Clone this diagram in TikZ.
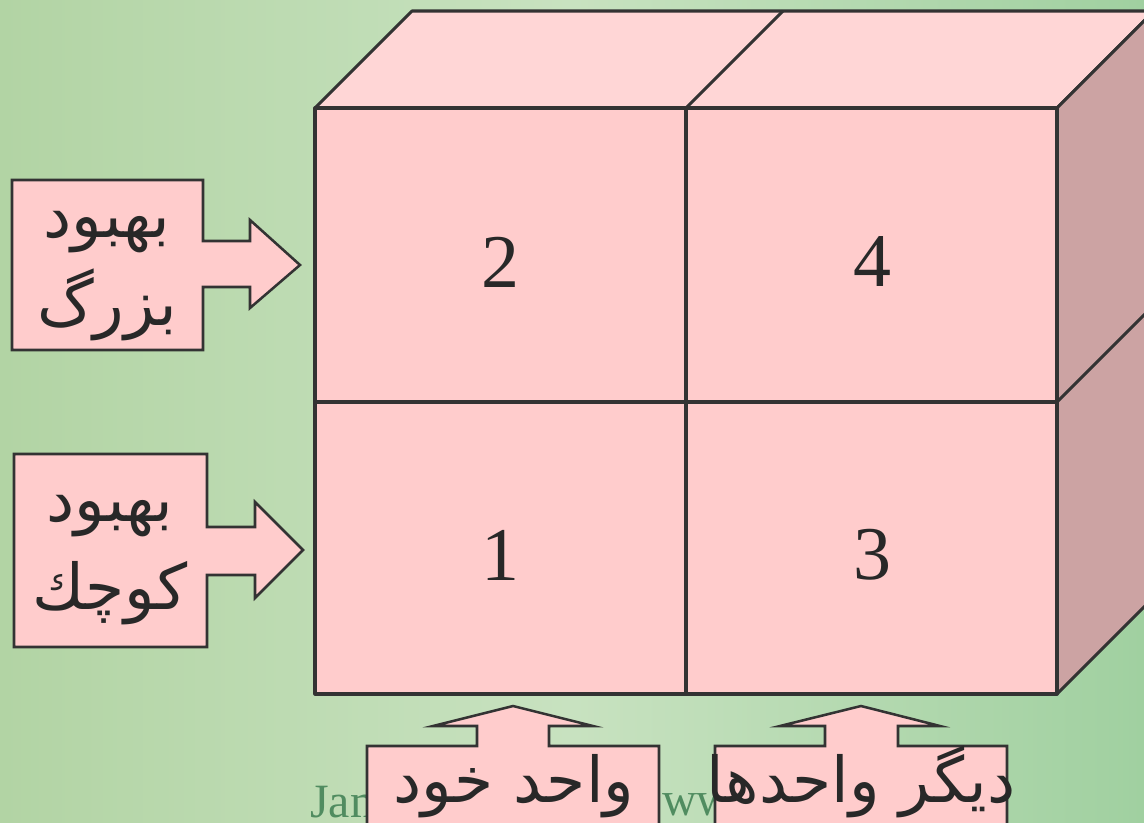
\documentclass[tikz,border=0pt]{standalone}
\usepackage{fontspec}
\setmainfont{Liberation Serif}
\newfontfamily\farsi[Script=Arabic]{DejaVu Sans}
\TeXXeTstate=1
\usepackage{tikz}
\usetikzlibrary{calc}
\definecolor{bgleft}{RGB}{178,212,164}
\definecolor{bgmid}{RGB}{200,226,192}
\definecolor{bgright}{RGB}{160,208,160}
\definecolor{cellpink}{RGB}{255,204,204}
\definecolor{toppink}{RGB}{255,214,214}
\definecolor{sidepink}{RGB}{204,163,163}
\definecolor{edge}{RGB}{51,51,51}
\definecolor{ink}{RGB}{40,40,40}
\definecolor{footgreen}{RGB}{80,140,96}
\tikzset{
  % ---- cube -------------------------------------------------------------
  face/.style={draw=edge, line width=2.2pt, line join=round},
  split/.style={draw=edge, line width=2.2pt},
  digit/.style={font=\fontsize{54}{60}\selectfont, text=ink, inner sep=0pt},
  % ---- callouts ---------------------------------------------------------
  callout/.style={fill=cellpink, draw=edge, line width=1.8pt, line join=miter},
  fatxt/.style={font=\farsi\fontsize{45}{62}\selectfont, text=ink,
                align=center, inner sep=0pt},
  % ---- footer -----------------------------------------------------------
  foot/.style={font=\fontsize{34}{38}\selectfont, text=footgreen, inner sep=0pt},
}
\begin{document}
\begin{tikzpicture}[x=0.025cm,y=-0.025cm]

\def\XL{315}\def\XM{686}\def\XR{1057}
\def\YT{108}\def\YM{402}\def\YB{694}
\def\D{97}

\clip (0,0) rectangle (1144,822);

% ---- background -----------------------------------------------------------
\shade[left color=bgleft, right color=bgright, middle color=bgmid]
  (0,0) rectangle (1144,822);

% ---- footer (behind the callouts) -----------------------------------------
\node[foot, anchor=base west] (jam) at (310,817) {Jam};
\node[foot, anchor=base west] (www) at (662,815) {www};

% ---- cube -----------------------------------------------------------------
\filldraw[face, fill=toppink] (\XL,\YT) -- ++(\D,-\D) -- (\XR+\D,\YT-\D) -- (\XR,\YT) -- cycle;
\filldraw[face, fill=sidepink] (\XR,\YT) -- ++(\D,-\D) -- (\XR+\D,\YB-\D) -- (\XR,\YB) -- cycle;
\filldraw[face, fill=cellpink] (\XL,\YT) rectangle (\XR,\YB);
\draw[split] (\XM,\YT) -- (\XM,\YB);
\draw[split] (\XL,\YM) -- (\XR,\YM);
\draw[split] (\XM,\YT) -- ++(\D,-\D);
\draw[split] (\XR,\YM) -- ++(\D,-\D);

\node[digit] (c2) at (500,262) {2};
\node[digit] (c4) at (872,262) {4};
\node[digit] (c1) at (500,555) {1};
\node[digit] (c3) at (872,555) {3};

% ---- left callouts --------------------------------------------------------
\filldraw[callout] (12,180) -- (203,180) -- (203,241) -- (250,241) -- (250,220)
  -- (300,265) -- (250,308) -- (250,287) -- (203,287) -- (203,350) -- (12,350) -- cycle;
\node[fatxt] (big) at (107,276) {\beginR بهبود\endR\\\beginR بزرگ\endR};

\filldraw[callout] (14,454) -- (207,454) -- (207,527) -- (255,527) -- (255,502)
  -- (303,550) -- (255,598) -- (255,575) -- (207,575) -- (207,647) -- (14,647) -- cycle;
\node[fatxt] (small) at (110,560) {\beginR بهبود\endR\\\beginR كوچك\endR};

% ---- bottom callouts ------------------------------------------------------
\filldraw[callout] (367,840) -- (367,746) -- (477,746) -- (477,726) -- (433,726)
  -- (513,706) -- (593,726) -- (549,726) -- (549,746) -- (659,746) -- (659,840) -- cycle;
\node[fatxt, anchor=base] (own) at (514,802) {\beginR واحد خود\endR};

\filldraw[callout] (715,840) -- (715,746) -- (825,746) -- (825,726) -- (780,726)
  -- (861,706) -- (940,726) -- (898,726) -- (898,746) -- (1007,746) -- (1007,840) -- cycle;
\node[fatxt, anchor=base] (other) at (861,802) {\beginR ديگر واحدها\endR};

\end{tikzpicture}
\end{document}
